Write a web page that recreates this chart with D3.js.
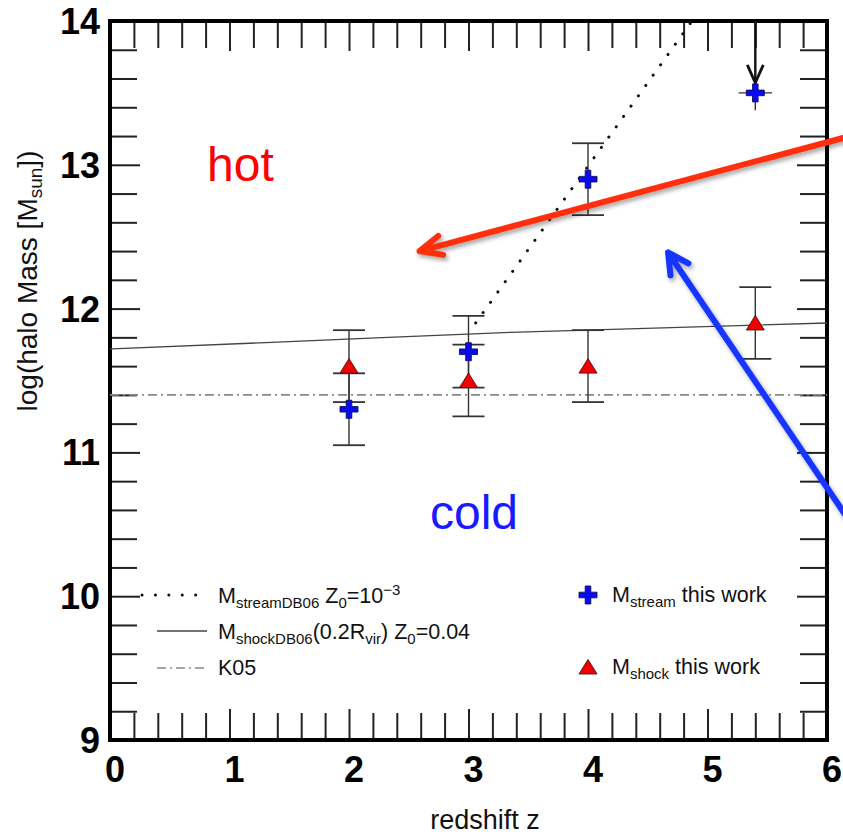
<!DOCTYPE html>
<html><head><meta charset="utf-8">
<script src="https://cdn.jsdelivr.net/npm/d3@7"></script>
<style>body{margin:0;background:#fff}svg{display:block}</style>
</head><body>
<script>
// ---- data ----
const xTickLabels = [0,1,2,3,4,5,6];
const yTickLabels = [9,10,11,12,13,14];
const streamZ = [2,3,4,5.4];
const streamM = [11.3,11.7,12.9,13.5];
const streamErrLo = [0.25,0.25,0.25,0.12];
const streamErrHi = [0.25,0.25,0.25,0.5];
const streamErrZ = [0,0,0,0.14];
const streamUpperLimit = [false,false,false,true];
const shockZ = [2,3,4,5.4];
const shockM = [11.6,11.5,11.6,11.9];
const shockErr = [0.25,0.25,0.25,0.25];
const db06StreamZ = [3.06,4.87];
const db06StreamM = [11.90,14.0];
const db06ShockZ = [0,1.5,3.35,6];
const db06ShockM = [11.72,11.77,11.835,11.90];
const k05Z = [0,6];
const k05M = [11.4,11.4];
const arrowRed = [[6.15,13.19],[2.59,12.40]];
const arrowBlue = [[6.15,10.57],[4.67,12.39]];

const W=843,H=837;
const svg=d3.select("body").append("svg").attr("width",W).attr("height",H);
svg.append("rect").attr("width",W).attr("height",H).attr("fill","#fff");
const defs=svg.append("defs");
const f=defs.append("filter").attr("id","sh").attr("x","-20%").attr("y","-20%").attr("width","140%").attr("height","140%");
f.append("feDropShadow").attr("dx",2).attr("dy",3).attr("stdDeviation",2).attr("flood-color","#000").attr("flood-opacity",0.35);
const cp=defs.append("clipPath").attr("id","plot");

const x=d3.scaleLinear().domain([0,6]).range([110,827]);
const y=d3.scaleLinear().domain([9,14]).range([740,21]);
cp.append("rect").attr("x",110).attr("y",21).attr("width",717).attr("height",719);

const FONT="'Liberation Sans', Arial, Helvetica, sans-serif";

// ---- ticks (inward) ----
const minorX=d3.range(0,6.001,0.2).filter(v=>Math.abs(v-Math.round(v))>1e-6);
const minorY=d3.range(9,14.001,0.2).filter(v=>Math.abs(v-Math.round(v))>1e-6);
function ax(gen,vals,size,tx){
  svg.append("g").attr("transform",tx).call(gen.tickValues(vals).tickSize(size).tickFormat(""))
   .call(g=>{g.select(".domain").remove();g.selectAll("line").attr("stroke","#222").attr("stroke-width",2);});
}
ax(d3.axisBottom(x),minorX,-27,"translate(0,740)");
ax(d3.axisBottom(x),xTickLabels,-31,"translate(0,740)");
ax(d3.axisTop(x),minorX,-27,"translate(0,21)");
ax(d3.axisTop(x),xTickLabels,-30,"translate(0,21)");
ax(d3.axisLeft(y),minorY,-27,"translate(110,0)");
ax(d3.axisLeft(y),yTickLabels,-30,"translate(110,0)");
ax(d3.axisRight(y),minorY,-27,"translate(827,0)");
ax(d3.axisRight(y),yTickLabels,-30,"translate(827,0)");

// frame
svg.append("rect").attr("x",x(0)).attr("y",y(14)).attr("width",x(6)-x(0)).attr("height",y(9)-y(14))
  .attr("fill","none").attr("stroke","#000").attr("stroke-width",4);

// tick labels
svg.append("g").selectAll("text").data(xTickLabels).join("text")
  .attr("x",d=>x(d)+5).attr("y",782).attr("text-anchor","middle")
  .attr("font-family",FONT).attr("font-weight","bold").attr("font-size",36).attr("fill","#000").text(d=>d);
svg.append("g").selectAll("text").data(yTickLabels).join("text")
  .attr("x",100).attr("y",d=>y(d)+13).attr("text-anchor","end")
  .attr("font-family",FONT).attr("font-weight","bold").attr("font-size",36).attr("fill","#000").text(d=>d);

// axis titles
svg.append("text").attr("x",485).attr("y",829).attr("text-anchor","middle")
  .attr("font-family",FONT).attr("font-size",27).attr("fill","#111").text("redshift z");
const yl=svg.append("text").attr("transform","translate(37,281) rotate(-90)").attr("text-anchor","middle")
  .attr("font-family",FONT).attr("font-size",28).attr("fill","#111");
yl.append("tspan").text("log(halo Mass [M");
yl.append("tspan").attr("font-size",19).attr("dy",5).text("sun");
yl.append("tspan").attr("dy",-5).text("])");

const plot=svg.append("g").attr("clip-path","url(#plot)");

// model lines
const line=d3.line().x(d=>x(d[0])).y(d=>y(d[1]));
plot.append("path").attr("d",line(k05Z.map((z,i)=>[z,k05M[i]])))
  .attr("fill","none").attr("stroke","#888").attr("stroke-width",1.8).attr("stroke-dasharray","9,4,2,4");
plot.append("path").attr("d",d3.line().curve(d3.curveMonotoneX).x(d=>x(d[0])).y(d=>y(d[1]))(db06ShockZ.map((z,i)=>[z,db06ShockM[i]])))
  .attr("fill","none").attr("stroke","#444").attr("stroke-width",1.3);
plot.append("path").attr("d",line(db06StreamZ.map((z,i)=>[z,db06StreamM[i]])))
  .attr("fill","none").attr("stroke","#111").attr("stroke-width",3).attr("stroke-linecap","round").attr("stroke-dasharray","0.1,12.6");

// error bars
const ebCol="#333",capW=16;
function errbar(z,m,lo,hi,cap,w){
  plot.append("line").attr("x1",x(z)).attr("x2",x(z)).attr("y1",y(m-lo)).attr("y2",y(m+hi)).attr("stroke",ebCol).attr("stroke-width",w||1.4);
  if(cap){
    [m-lo,m+hi].forEach(v=>plot.append("line").attr("x1",x(z)-capW).attr("x2",x(z)+capW).attr("y1",y(v)).attr("y2",y(v)).attr("stroke",ebCol).attr("stroke-width",1.8));
  }
}
shockZ.forEach((z,i)=>errbar(z,shockM[i],shockErr[i],shockErr[i],true));
streamZ.forEach((z,i)=>{
  if(streamUpperLimit[i]){
    errbar(z,streamM[i],streamErrLo[i],0,false,1.4);
    const tx=x(z),ty=y(streamM[i])-10;
    plot.append("line").attr("x1",tx).attr("x2",tx).attr("y1",y(streamM[i]+streamErrHi[i])).attr("y2",ty).attr("stroke","#111").attr("stroke-width",2.4);
    plot.append("path").attr("d",`M${tx-8},${ty-18}L${tx},${ty}L${tx+8},${ty-18}`).attr("fill","none").attr("stroke","#111").attr("stroke-width",2.8);
  } else errbar(z,streamM[i],streamErrLo[i],streamErrHi[i],true);
  if(streamErrZ[i]>0){
    plot.append("line").attr("x1",x(z-streamErrZ[i])).attr("x2",x(z+streamErrZ[i])).attr("y1",y(streamM[i])).attr("y2",y(streamM[i])).attr("stroke",ebCol).attr("stroke-width",1.4);
  }
});

// markers
const crossPath="M-2.8,-9H2.8V-2.8H9V2.8H2.8V9H-2.8V2.8H-9V-2.8H-2.8Z";
const triPath="M0,-7.5L9,7L-9,7Z";
function cross(g,px,py){g.append("path").attr("d",crossPath).attr("transform",`translate(${px},${py})`).attr("fill","#0a0af0").attr("stroke","#101060").attr("stroke-width",0.9);}
function tri(g,px,py){g.append("path").attr("d",triPath).attr("transform",`translate(${px},${py})`).attr("fill","#f00000").attr("stroke","#501010").attr("stroke-width",0.9);}
shockZ.forEach((z,i)=>tri(plot,x(z),y(shockM[i])));
streamZ.forEach((z,i)=>cross(plot,x(z),y(streamM[i])));

// region labels
svg.append("text").attr("x",207).attr("y",181).attr("font-family",FONT).attr("font-size",48).attr("fill","#ff0000").text("hot");
svg.append("text").attr("x",430).attr("y",529).attr("font-family",FONT).attr("font-size",48).attr("fill","#1a1aff").text("cold");

// legend
const LF=21.5,SF=15;
function legText(px,py,parts){
  const t=svg.append("text").attr("x",px).attr("y",py).attr("font-family",FONT).attr("font-size",LF).attr("fill","#111");
  let cur=0;
  parts.forEach(p=>{
    const want=p.sub?5:(p.sup?-8:0);
    t.append("tspan").attr("dy",want-cur).attr("font-size",(p.sub||p.sup)?SF:LF).text(p.t);
    cur=want;
  });
}
svg.append("line").attr("x1",142).attr("x2",196).attr("y1",595).attr("y2",595).attr("stroke","#111").attr("stroke-width",3).attr("stroke-linecap","round").attr("stroke-dasharray","0.1,13.3");
svg.append("line").attr("x1",157).attr("x2",207).attr("y1",631).attr("y2",631).attr("stroke","#444").attr("stroke-width",1.3);
svg.append("line").attr("x1",157).attr("x2",207).attr("y1",668).attr("y2",668).attr("stroke","#888").attr("stroke-width",1.6).attr("stroke-dasharray","9,4,2,4");
legText(218,603,[{t:"M"},{t:"streamDB06",sub:true},{t:" Z"},{t:"0",sub:true},{t:"=10"},{t:"−3",sup:true}]);
legText(218,639,[{t:"M"},{t:"shockDB06",sub:true},{t:"(0.2R"},{t:"vir",sub:true},{t:") Z"},{t:"0",sub:true},{t:"=0.04"}]);
legText(218,675,[{t:"K05"}]);
cross(svg,588,595);
tri(svg,588,667);
legText(612,602,[{t:"M"},{t:"stream",sub:true},{t:" this work"}]);
legText(612,674,[{t:"M"},{t:"shock",sub:true},{t:" this work"}]);

// annotation arrows
function arrow(a,col,len,ang){
  const x1=x(a[0][0]),y1=y(a[0][1]),x2=x(a[1][0]),y2=y(a[1][1]);
  const th=Math.atan2(y1-y2,x1-x2);
  const r=ang*Math.PI/180;
  const p1=[x2+len*Math.cos(th+r),y2+len*Math.sin(th+r)];
  const p2=[x2+len*Math.cos(th-r),y2+len*Math.sin(th-r)];
  svg.append("path").attr("d",`M${x1},${y1}L${x2},${y2}M${p1[0]},${p1[1]}L${x2},${y2}L${p2[0]},${p2[1]}`)
    .attr("fill","none").attr("stroke",col).attr("stroke-width",6).attr("stroke-linecap","round").attr("stroke-linejoin","round").attr("filter","url(#sh)");
}
arrow(arrowRed,"#ff2d0a",24,24);
arrow(arrowBlue,"#1436ff",23,28);
</script>
</body></html>
